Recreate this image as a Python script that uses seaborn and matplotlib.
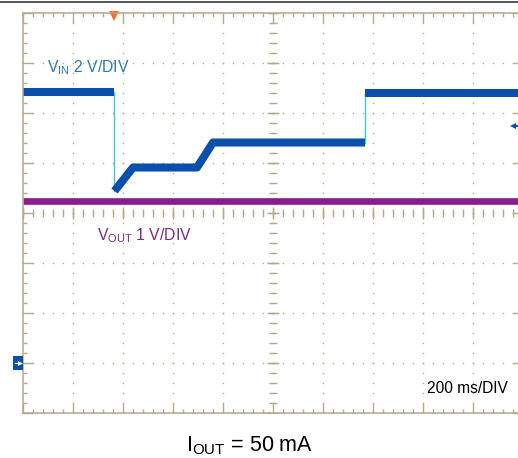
import numpy as np
import pandas as pd
import matplotlib
matplotlib.use("Agg")
import matplotlib.pyplot as plt
import matplotlib.transforms as mtransforms
from matplotlib.lines import Line2D
from matplotlib.patches import Rectangle
import seaborn as sns

# scope capture, x in ms (200 ms/DIV), y in screen divisions (0 = bottom, 8 = top)
vin_t = [0, 364, 366, 440, 696, 760, 1368, 1368, 2000]
vin_div = [6.42, 6.42, 4.44, 4.91, 4.91, 5.41, 5.41, 6.40, 6.40]
vin_seg = [0, 0, 1, 1, 1, 1, 1, 2, 2]
edge_t = [364, 364, 1368, 1368]
edge_div = [6.42, 4.44, 5.41, 6.40]
edge_seg = [0, 0, 1, 1]
vout_t = [0, 2000]
vout_div = [4.23, 4.23]

VIN_GND = 1.0
TRIG_T = 364
TRIG_LEVEL = 5.74

GRID = "#b3a98c"
BLUE = "#0a4fac"
CYAN = "#3cc8d8"
PURPLE = "#8a1c8e"

sns.set_theme(style="white")
plt.rcParams["font.family"] = ["Liberation Sans", "DejaVu Sans"]
plt.rcParams["mathtext.fontset"] = "custom"
plt.rcParams["mathtext.rm"] = "Liberation Sans"
plt.rcParams["mathtext.it"] = "Liberation Sans"

fig = plt.figure(figsize=(5.18, 4.58), dpi=100)
ax = fig.add_axes([23 / 518, 45 / 458, 500 / 518, 400 / 458])
ax.set_xlim(0, 2000)
ax.set_ylim(0, 8)

# dotted graticule
for x in range(200, 2000, 200):
    yy = np.arange(0, 8.01, 0.2)
    ax.plot(np.full(len(yy), x), yy, ls="none", marker="s", ms=1.0, mew=0, color=GRID)
for y in range(1, 8):
    xx = np.arange(0, 2001, 40)
    ax.plot(xx, np.full(len(xx), y), ls="none", marker="s", ms=1.0, mew=0, color=GRID)

# centre cross ticks
yy = np.arange(0, 8.01, 0.2)
ax.plot(np.full(len(yy), 1000), yy, ls="none", marker="_", ms=5.5, mew=1, color=GRID)
ax.plot(np.full(9, 1000), np.arange(0, 9), ls="none", marker="_", ms=9, mew=1, color=GRID)
xx = np.arange(0, 2001, 40)
ax.plot(xx, np.full(len(xx), 4), ls="none", marker="|", ms=5.5, mew=1, color=GRID)
ax.plot(np.arange(0, 2001, 200), np.full(11, 4), ls="none", marker="|", ms=9, mew=1, color=GRID)

# border ticks
ax.set_xticks(np.arange(0, 2001, 200))
ax.set_xticks(np.arange(0, 2001, 40), minor=True)
ax.set_yticks(np.arange(0, 8.01, 1))
ax.set_yticks(np.arange(0, 8.01, 0.2), minor=True)
ax.tick_params(which="both", direction="in", color=GRID, width=1,
               top=True, right=True, bottom=True, left=True,
               labelbottom=False, labelleft=False)
ax.tick_params(which="major", length=7)
ax.tick_params(which="minor", length=3.2)
for s in ax.spines.values():
    s.set_color(GRID)
    s.set_linewidth(1.1)

# traces
df_edge = pd.DataFrame({"t": edge_t, "v": edge_div, "seg": edge_seg})
sns.lineplot(data=df_edge, x="t", y="v", units="seg", estimator=None, sort=False,
             color=CYAN, lw=1.0, ax=ax)
df_vout = pd.DataFrame({"t": vout_t, "v": vout_div})
sns.lineplot(data=df_vout, x="t", y="v", estimator=None, sort=False,
             color=PURPLE, lw=4.8, solid_capstyle="butt", ax=ax)
df_vin = pd.DataFrame({"t": vin_t, "v": vin_div, "seg": vin_seg})
sns.lineplot(data=df_vin, x="t", y="v", units="seg", estimator=None, sort=False,
             color=BLUE, lw=5.8, solid_capstyle="butt", ax=ax)
ax.set_xlabel("")
ax.set_ylabel("")

# markers
ax.plot(TRIG_T, 7.95, marker="v", ms=7, mew=0, color="#f36f21", clip_on=False)
ax.plot([1962, 2000], [TRIG_LEVEL, TRIG_LEVEL], color=BLUE, lw=1.5)
ax.plot(1962, TRIG_LEVEL, marker="<", ms=5, mew=0, color=BLUE)
bl = mtransforms.blended_transform_factory(ax.transAxes, ax.transData)
ax.add_patch(Rectangle((-10 / 500, VIN_GND - 0.14), 10 / 500, 0.28, transform=bl,
                       color=BLUE, clip_on=False, lw=0, zorder=5))
ax.add_line(Line2D([-8 / 500, -3 / 500], [VIN_GND, VIN_GND], transform=bl, color="white",
                   lw=1.0, clip_on=False, zorder=6))
ax.add_line(Line2D([-3 / 500], [VIN_GND], transform=bl, color="white", marker=">",
                   ms=3.5, mew=0, clip_on=False, zorder=6))

# labels
ax.text(96, 6.82, r"V$_{\mathrm{IN}}$ 2 V/DIV", color="#2a78bd", fontsize=11.3, va="baseline")
ax.text(296, 3.45, r"V$_{\mathrm{OUT}}$ 1 V/DIV", color="#7a2a82", fontsize=11.3, va="baseline")
ax.text(1616, 0.40, "200 ms/DIV", color="black", fontsize=11.2, va="baseline")
fig.text(250 / 518, (458 - 451.5) / 458, r"I$_{\mathrm{OUT}}$ = 50 mA", ha="center",
         va="baseline", fontsize=15.5, color="black")

fig.add_artist(Line2D([0, 1], [1 - 1.5 / 458] * 2, transform=fig.transFigure,
                      color="#3a3a3a", lw=1.2))

fig.savefig("out.png", dpi=100)
